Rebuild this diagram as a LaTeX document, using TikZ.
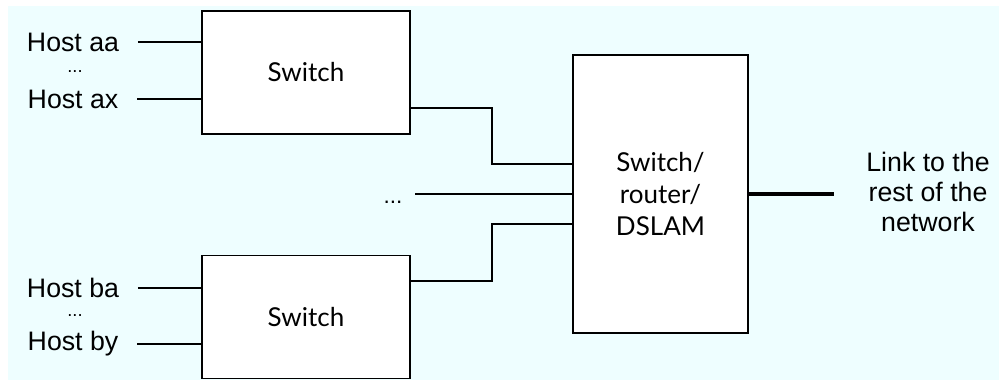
\documentclass[tikz,border=0pt]{standalone}
\usepackage{fontspec}
\setmainfont{Liberation Sans}
\newfontfamily\boxfont{Lato}
\usepackage{tikz}
\usetikzlibrary{positioning,calc}

\definecolor{bgcyan}{RGB}{238,254,255}

\begin{document}
\begin{tikzpicture}[x=0.025cm,y=0.025cm,
  line width=1.1pt,
  box/.style={draw,fill=white,line width=1.1pt,font=\boxfont\fontsize{18.5}{23}\selectfont,
    align=center, inner sep=0pt},
  host/.style={font=\fontsize{19}{21.5}\selectfont, inner xsep=0.45cm, inner ysep=0pt},
  hdots/.style={font=\fontsize{13}{15}\selectfont, inner sep=0pt},
  uplink/.style={line width=2.2pt}]
\useasboundingbox (0,0) rectangle (999,380);
\fill[bgcyan] (8,0) rectangle (999,374);

% switches and the central box
\node[box,minimum width=5.2cm,minimum height=3.075cm] (swa) at (306,307.5) {Switch};
\node[box,minimum width=5.2cm,minimum height=3.075cm] (swb) at (306,63) {Switch};
\node[box,minimum width=4.375cm,minimum height=6.95cm] (dslam) at (660.5,186)
  {Switch/\\router/\\DSLAM};

% hosts
\node[host] (haa) at (73,338) {Host aa};
\node[hdots] (adots) at (75,308) {...};
\node[host] (hax) at (73,281) {Host ax};
\node[host] (hba) at (73,92) {Host ba};
\node[hdots] (bdots) at (75,64) {...};
\node[host] (hby) at (73,36) {Host by};
\draw (haa.east) -- (haa.east -| swa.west);
\draw (hax.east) -- (hax.east -| swa.west);
\draw (hba.east) -- (hba.east -| swb.west);
\draw (hby.east) -- (hby.east -| swb.west);

% uplinks into the central box
\draw ([yshift=-0.8875cm]swa.east) -- ++(2.025cm,0) |- ([yshift=0.75cm]dslam.west);
\draw ([yshift=0.9cm]swb.east) -- ++(2.025cm,0) |- ([yshift=-0.75cm]dslam.west);
\node[font=\fontsize{16}{18}\selectfont, inner sep=0pt] (mdots) at (393,178) {...};
\coordinate (mid) at (415,186);
\draw (mid) -- (mid -| dslam.west);

% link out
\node[host, align=center, inner xsep=0.8cm] (link) at (928,188)
  {Link to the\\rest of the\\network};
\draw[uplink] (dslam.east) -- (dslam.east -| link.west);
\end{tikzpicture}
\end{document}
